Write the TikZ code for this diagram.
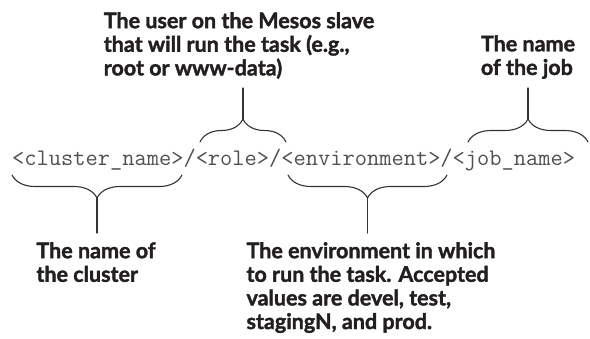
\documentclass[tikz,border=0pt]{standalone}
\usepackage{fontspec}
\setmainfont{Lato}[BoldFeatures={FakeBold=1.6}]
\usetikzlibrary{decorations.pathreplacing}
\definecolor{codeclr}{HTML}{505050}
\definecolor{braceclr}{HTML}{333333}
\definecolor{noteclr}{HTML}{231F20}
\begin{document}
\begin{tikzpicture}[x=1bp, y=1bp, line join=round, line cap=round]
	\tikzset{bracetop/.style={draw=braceclr, line width=1.1bp, decorate, decoration={brace, amplitude=23bp}},
		link/.style={draw=braceclr, line width=1.1bp},
		note/.style={align=left, inner xsep=0pt, inner ysep=9bp, text=noteclr,
			font=\fontsize{21.6}{23.7}\selectfont\bfseries}
	}
	\useasboundingbox (0,0) rectangle (590,338);
	\node[anchor=base west, inner sep=0pt, text=codeclr, font=\ttfamily\fontsize{23.85}{26}\selectfont] (jobpath) at (12,173)
		{<cluster\_name>/<role>/<environment>/<job\_name>};
	% braces over and under the parts of the path
	\draw[bracetop] (200,196) -- (286,196);
	\draw[bracetop] (468,196) -- (588,196);
	\draw[bracetop] (182,163) -- (12,163);
	\draw[bracetop] (447,163) -- (288,163);
	\coordinate (roleTip) at (243,219);
	\coordinate (jobTip) at (528,219);
	\coordinate (clusterTip) at (97,140);
	\coordinate (envTip) at (367.5,140);
	% notes
	\node[note, anchor=south] (userNote) at (239,250) {The user on the Mesos slave\\that will run the task (e.g.,\\root or www-data)};
	\node[note, anchor=south] (jobNote) at (528,250) {The name\\of the job};
	\node[note, anchor=north] (clusterNote) at (96,105) {The name of\\the cluster};
	\node[note, anchor=north] (envNote) at (371,105) {The environment in which\\to run the task. Accepted\\values are devel, test,\\stagingN, and prod.};
	\draw[link] (roleTip) -- (roleTip |- userNote.south);
	\draw[link] (jobTip) -- (jobNote.south);
	\draw[link] (clusterTip) -- (clusterTip |- clusterNote.north);
	\draw[link] (envTip) -- (envTip |- envNote.north);
\end{tikzpicture}
\end{document}
